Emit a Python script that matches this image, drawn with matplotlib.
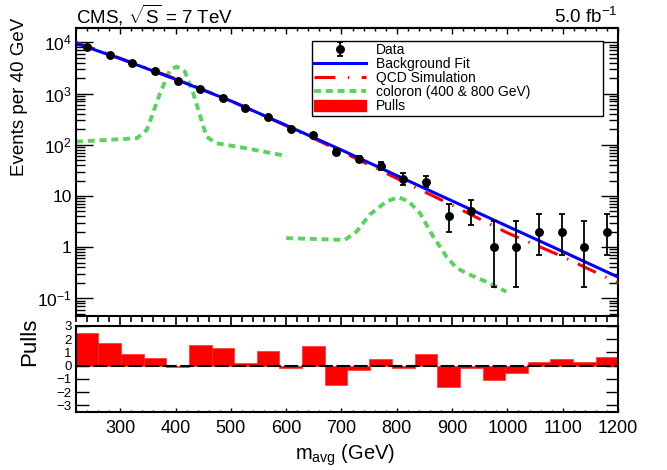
import matplotlib
matplotlib.use('Agg')
import matplotlib.pyplot as plt
from matplotlib.ticker import FixedLocator, MultipleLocator, FixedFormatter, NullFormatter, LogLocator
from matplotlib.lines import Line2D
from matplotlib.patches import Patch

plt.rcParams['font.family'] = ['Liberation Sans', 'DejaVu Sans']
plt.rcParams['mathtext.fontset'] = 'custom'
plt.rcParams['mathtext.rm'] = 'Liberation Sans'
plt.rcParams['mathtext.it'] = 'Liberation Sans:italic'
plt.rcParams['mathtext.bf'] = 'Liberation Sans:bold'
plt.rcParams['lines.scale_dashes'] = False

# ---- data ----
mass = [240, 281, 322, 363, 404, 445, 486, 526, 567, 608, 649, 690,
        731, 771, 812, 853, 894, 935, 976, 1016, 1057, 1098, 1139, 1180]
bin_width = 40.8
counts = [8000, 5680, 3900, 2720, 1790, 1230, 810, 517, 349, 206, 155, 73,
          53, 39, 21, 19, 4, 5, 1, 1, 2, 2, 1, 2]
err_lo = [89, 75, 62, 52, 42, 35, 28, 23, 19, 14, 12, 8.5,
          7.3, 6.2, 4.5, 4.3, 2.0, 2.3, 0.83, 0.83, 1.3, 1.3, 0.83, 1.3]
err_hi = [89, 75, 62, 52, 42, 35, 28, 23, 19, 14, 12, 8.5,
          7.3, 6.5, 6.6, 5.5, 3.0, 3.2, 2.3, 2.3, 2.5, 2.5, 2.3, 2.5]
pulls = [2.46, 1.69, 0.89, 0.58, -0.10, 1.59, 1.30, 0.19, 1.08, -0.14, 1.47, -1.47,
         -0.29, 0.53, -0.14, 0.92, -1.61, -0.19, -1.11, -0.55, 0.29, 0.48, 0.27, 0.67]

curve_mass = [220, 300, 400, 500, 600, 700, 800, 900, 1000, 1100, 1200]
fit_vals = [9600, 4800, 1900, 718, 240, 79, 25, 8.0, 2.56, 0.82, 0.26]
qcd_vals = [10000, 4900, 1950, 720, 235, 74, 22, 6.6, 1.9, 0.65, 0.2]

col1_mass = [220, 330, 348, 372, 390, 402, 417, 432, 456, 474, 529, 601]
col1_vals = [115, 134, 195, 1015, 2890, 3350, 2680, 1015, 144, 107, 85, 60]
col2_mass = [600, 706, 727, 751, 782, 803, 821, 842, 866, 890, 908, 932, 962, 998]
col2_vals = [1.5, 1.38, 2.0, 4.3, 7.9, 9.4, 7.9, 4.6, 1.6, 0.65, 0.39, 0.29, 0.21, 0.135]

pull_ticks = [-3, -2, -1, 0, 1, 2, 3]
ytick_vals = [0.1, 1, 10, 100, 1000, 10000]
ytick_labels = [r'$10^{-1}$', '1', '10', r'$10^{2}$', r'$10^{3}$', r'$10^{4}$']

BLUE = '#0000ff'
RED = '#ff0000'
GREEN = '#5ad35a'

W, H = 667, 470
fig = plt.figure(figsize=(W / 100, H / 100), dpi=100)
ax1 = fig.add_axes([76 / W, 1 - 316 / H, 542 / W, 288 / H])
ax2 = fig.add_axes([76 / W, 1 - 412 / H, 542 / W, 86 / H])

# ---- upper panel ----
ax1.set_yscale('log')
ax1.set_xlim(220, 1200)
ax1.set_ylim(0.0451, 1.91e4)

ax1.plot(col1_mass, col1_vals, color=GREEN, lw=2.8, dashes=(5, 3.5), zorder=2)
ax1.plot(col2_mass, col2_vals, color=GREEN, lw=2.8, dashes=(5, 3.5), zorder=2)
ax1.plot(curve_mass, qcd_vals, color=RED, lw=2.2, dashes=(14.4, 7.5, 1.0, 7.5), zorder=3)
ax1.plot(curve_mass, fit_vals, color=BLUE, lw=2.2, zorder=4)
eb = ax1.errorbar(mass, counts, yerr=[err_lo, err_hi], fmt='o', color='black',
                  ms=5.4, capsize=2.5, elinewidth=1.3, capthick=1.3, zorder=5)

ax1.yaxis.set_major_locator(FixedLocator(ytick_vals))
ax1.yaxis.set_major_formatter(FixedFormatter(ytick_labels))
ax1.yaxis.set_minor_locator(LogLocator(base=10, subs=[2, 3, 4, 5, 6, 7, 8, 9], numticks=20))
ax1.yaxis.set_minor_formatter(NullFormatter())
ax1.tick_params(axis='y', which='both', direction='in', left=True, right=True, width=1.0)
ax1.tick_params(axis='y', which='major', length=12.5, labelsize=12.5, pad=3)
ax1.tick_params(axis='y', which='minor', length=6.3)

ax1.xaxis.set_major_locator(MultipleLocator(100))
ax1.xaxis.set_minor_locator(MultipleLocator(20))
ax1.tick_params(axis='x', which='both', direction='out', bottom=True, top=False,
                labelbottom=False, width=1.2)
ax1.tick_params(axis='x', which='major', length=7.0)
ax1.tick_params(axis='x', which='minor', length=4.5)

sec = ax1.secondary_xaxis('top')
sec.xaxis.set_major_locator(MultipleLocator(100))
sec.xaxis.set_minor_locator(MultipleLocator(20))
sec.tick_params(axis='x', which='both', direction='in', labeltop=False, width=1.0)
sec.tick_params(axis='x', which='major', length=4.5)
sec.tick_params(axis='x', which='minor', length=2.2)
sec.spines['top'].set_linewidth(1.5)

for sp in ax1.spines.values():
    sp.set_linewidth(1.5)

handles = [eb,
           Line2D([], [], color=BLUE, lw=2.2),
           Line2D([], [], color=RED, lw=2.2, dashes=(15, 9, 1.0, 9)),
           Line2D([], [], color=GREEN, lw=2.8, dashes=(5, 3.5)),
           Patch(facecolor=RED, edgecolor=RED)]
labels = ['Data', 'Background Fit', 'QCD Simulation', 'coloron (400 & 800 GeV)', 'Pulls']
leg = ax1.legend(handles, labels, loc='upper left',
                 bbox_to_anchor=(311.7 / W, 1 - 115 / H, 291 / W, 74.3 / H),
                 bbox_transform=fig.transFigure, mode='expand', fontsize=10,
                 frameon=True, fancybox=False, edgecolor='black', framealpha=1,
                 borderpad=0.18, labelspacing=0.0, handlelength=3.7,
                 handletextpad=0.75, borderaxespad=0, handleheight=0.85)
leg.get_frame().set_linewidth(1.0)

# ---- pulls panel ----
ax2.set_xlim(220, 1200)
ax2.set_ylim(-3.5, 3.0)
ax2.bar(mass, pulls, width=bin_width, color=RED, edgecolor='#ff3030', lw=0.5, zorder=2)
ax2.axhline(0, color='black', lw=1.5, dashes=(10, 2.5), zorder=3)

ax2.yaxis.set_major_locator(FixedLocator(pull_ticks))
ax2.tick_params(axis='y', which='major', direction='in', left=True, right=True,
                length=9, width=1.0, labelsize=9.5, pad=3)
ax2.xaxis.set_major_locator(MultipleLocator(100))
ax2.xaxis.set_minor_locator(MultipleLocator(20))
ax2.tick_params(axis='x', which='both', direction='in', bottom=True, top=False, width=1.0)
ax2.tick_params(axis='x', which='major', length=3.0, labelsize=13, pad=5.5)
ax2.tick_params(axis='x', which='minor', length=1.6)
for sp in ax2.spines.values():
    sp.set_linewidth(1.5)

# ---- texts ----
fig.text(76 / W, 1 - 23 / H, r'CMS, $\sqrt{\mathrm{S}}$ = 7 TeV', ha='left', va='baseline', fontsize=13.5)
fig.text(618 / W, 1 - 23 / H, r'5.0 fb$^{-1}$', ha='right', va='baseline', fontsize=13.5)
fig.text(20 / W, 1 - 18 / H, 'Events per 40 GeV', rotation=90, ha='center', va='top', fontsize=13.5)
fig.text(30 / W, 1 - 342 / H, 'Pulls', rotation=90, ha='center', va='center', fontsize=16)
fig.text(345 / W, 1 - 455 / H, r'm$_{\mathrm{avg}}$ (GeV)', ha='center', va='center', fontsize=14.5)

fig.savefig('out.png', dpi=100)
